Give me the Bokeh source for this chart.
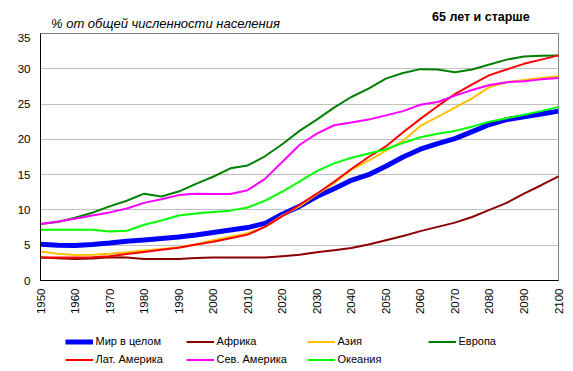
from bokeh.plotting import figure
from bokeh.layouts import column
from bokeh.models import Range1d, SingleIntervalTicker, Legend, LegendItem, Label
from bokeh.embed import file_html
from bokeh.resources import INLINE
import math

years = list(range(1950, 2101, 5))

world = [5.15, 5.0, 4.95, 5.1, 5.3, 5.55, 5.75, 5.95, 6.15, 6.45, 6.8, 7.15, 7.5, 8.1, 9.4, 10.5,
         11.9, 13.0, 14.2, 15.0, 16.2, 17.5, 18.6, 19.4, 20.1, 21.1, 22.1, 22.8, 23.2, 23.6, 24.0]
africa = [3.25, 3.15, 3.05, 3.1, 3.3, 3.25, 3.05, 3.05, 3.05, 3.2, 3.25, 3.25, 3.25, 3.25, 3.45, 3.65,
          4.0, 4.3, 4.6, 5.1, 5.7, 6.3, 7.0, 7.6, 8.2, 9.0, 10.0, 11.0, 12.3, 13.5, 14.75]
asia = [4.1, 3.8, 3.6, 3.65, 3.8, 4.0, 4.25, 4.45, 4.7, 5.1, 5.7, 6.2, 6.7, 7.6, 9.2, 10.5,
        12.2, 13.8, 15.7, 17.0, 18.4, 19.8, 21.9, 23.2, 24.5, 25.8, 27.4, 28.1, 28.4, 28.7, 28.95]
europe = [8.0, 8.3, 8.9, 9.6, 10.5, 11.3, 12.3, 11.9, 12.6, 13.7, 14.7, 15.9, 16.3, 17.6, 19.3, 21.2,
          22.8, 24.5, 26.0, 27.2, 28.6, 29.4, 29.95, 29.9, 29.5, 29.9, 30.6, 31.3, 31.75, 31.85, 31.9]
latam = [3.25, 3.25, 3.25, 3.3, 3.45, 3.75, 4.05, 4.35, 4.65, 5.1, 5.5, 6.0, 6.5, 7.6, 9.1, 10.7,
         12.3, 14.0, 15.8, 17.5, 19.0, 21.0, 22.9, 24.7, 26.4, 27.8, 29.1, 29.9, 30.7, 31.3, 31.9]
northam = [8.0, 8.35, 8.75, 9.2, 9.65, 10.2, 11.0, 11.5, 12.1, 12.3, 12.25, 12.25, 12.8, 14.4, 16.8, 19.2,
           20.8, 22.0, 22.4, 22.8, 23.4, 24.0, 24.9, 25.3, 26.2, 27.0, 27.7, 28.1, 28.25, 28.5, 28.7]
oceania = [7.2, 7.2, 7.2, 7.2, 6.95, 7.05, 7.9, 8.5, 9.2, 9.5, 9.7, 9.9, 10.35, 11.3, 12.6, 14.0,
           15.5, 16.6, 17.4, 18.0, 18.6, 19.5, 20.3, 20.8, 21.2, 21.8, 22.5, 23.0, 23.5, 24.0, 24.6]

names = ["Мир в целом", "Африка", "Азия", "Европа", "Лат. Америка", "Сев. Америка", "Океания"]
series = [world, africa, asia, europe, latam, northam, oceania]
colors = ["#0000FF", "#8B0000", "#FFC000", "#008000", "#FF0000", "#FF00FF", "#00FF00"]
widths = [5, 2, 2, 2, 2, 2, 2]

subtitle = "% от общей  численности  населения"
title = "65 лет и старше"

FONT = "Liberation Sans"
W = 573


def strip(height):
    f = figure(width=W, height=height, output_backend="svg", toolbar_location=None,
               x_range=Range1d(1950, 2100), y_range=Range1d(0, 35),
               x_axis_type=None, y_axis_type=None,
               min_border_left=40, min_border_right=15, min_border_top=0, min_border_bottom=0)
    f.outline_line_color = None
    f.grid.grid_line_color = None
    f.background_fill_color = "white"
    f.border_fill_color = "white"
    return f


# ---- header strip with the two titles ----
hd = strip(33)
hd.add_layout(Label(x=10.5, y=10, x_units="screen", y_units="screen", text=subtitle,
                    text_font=FONT, text_font_style="italic", text_font_size="13px",
                    text_color="black", text_baseline="alphabetic"))
hd.add_layout(Label(x=391.5, y=17, x_units="screen", y_units="screen", text=title,
                    text_font=FONT, text_font_style="bold", text_font_size="12.5px",
                    text_color="black", text_baseline="alphabetic"))

# ---- main chart ----
p = figure(width=W, height=287, output_backend="svg", toolbar_location=None,
           x_range=Range1d(1950, 2100), y_range=Range1d(0, 35),
           min_border_left=40, min_border_right=15, min_border_top=0, min_border_bottom=40)
p.background_fill_color = "white"
p.border_fill_color = "white"
p.outline_line_color = "#808080"
p.outline_line_width = 1

p.xaxis.ticker = SingleIntervalTicker(interval=10)
p.yaxis.ticker = SingleIntervalTicker(interval=5)
for ax in (p.xaxis[0], p.yaxis[0]):
    ax.axis_line_color = "black"
    ax.axis_line_width = 1
    ax.major_tick_line_color = None
    ax.minor_tick_line_color = None
    ax.major_tick_out = 0
    ax.major_tick_in = 0
    ax.minor_tick_out = 0
    ax.minor_tick_in = 0
    ax.major_label_text_font = FONT
    ax.major_label_text_font_size = "11.5px"
    ax.major_label_text_color = "black"
p.xaxis.major_label_orientation = math.pi / 2
p.xaxis.major_label_standoff = 8
p.yaxis.major_label_standoff = 10
p.xgrid.grid_line_color = None
p.ygrid.grid_line_color = "#C0C0C0"
p.ygrid.grid_line_width = 1

for ys, c, w in zip(series, colors, widths):
    p.line(years, ys, line_color=c, line_width=w)

# ---- legend strip ----
lg = strip(51)
items = []
for name, ys, c, w in zip(names, series, colors, widths):
    r = lg.line(years, ys, line_color=c, line_width=w, visible=False)
    items.append(LegendItem(label=name, renderers=[r]))

legend = Legend(items=items, ncols=4, orientation="horizontal",
                location=(24.5, 5.5), glyph_width=28, glyph_height=13,
                label_height=13, label_width=85, label_standoff=3, spacing=5,
                padding=0, margin=0, border_line_color=None, background_fill_alpha=0,
                inactive_fill_alpha=0,
                label_text_font=FONT, label_text_font_size="11px", label_text_color="black")
lg.add_layout(legend, "center")

layout = column(hd, p, lg, spacing=0)
open("out.html", "w").write(file_html(layout, INLINE))
